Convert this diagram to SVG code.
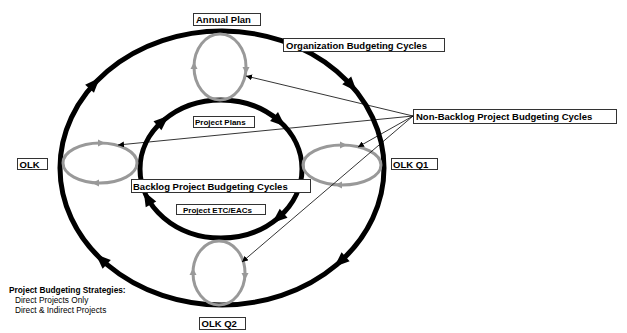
<svg xmlns="http://www.w3.org/2000/svg" width="627" height="333" viewBox="0 0 627 333">
<style>
.big{fill:none;stroke:#000;stroke-width:5}
.cyc{fill:none;stroke:#999;stroke-width:3}
.ah{fill:#000}
.gh{fill:#999}
.box{fill:#fff;stroke:#333;stroke-width:1}
.lbl{font-family:"Liberation Sans",Arial,sans-serif;font-weight:bold;font-size:9.5px;fill:#000}
.sm{font-size:8px}
.note{font-family:"Liberation Sans",Arial,sans-serif;font-size:8.3px;fill:#000}
.con{stroke:#000;stroke-width:0.8;fill:none;marker-end:url(#tip)}
</style>
<defs>
<marker id="tip" viewBox="0 0 10 10" refX="10" refY="5" markerWidth="6" markerHeight="6" markerUnits="userSpaceOnUse" orient="auto">
<path d="M0,0 L10,5 L0,10 z" fill="#000"/>
</marker>
</defs>
<g id="outer-cycle">
<ellipse class="big" cx="222" cy="168" rx="162" ry="137"/>
<polygon class="ah" points="8,0 -7,-6 -7,6" transform="translate(94.3,83.6) rotate(-47.3)"/>
<polygon class="ah" points="8,0 -7,-6 -7,6" transform="translate(351.4,85.6) rotate(48.3)"/>
<polygon class="ah" points="8,0 -7,-6 -7,6" transform="translate(340.4,261.4) rotate(137.8)"/>
<polygon class="ah" points="8,0 -7,-6 -7,6" transform="translate(101.6,259.7) rotate(223.2)"/>
</g>
<g id="inner-cycle">
<ellipse class="big" cx="221" cy="169" rx="81" ry="69"/>
<polygon class="ah" points="8,0 -7,-6 -7,6" transform="translate(162.7,121.1) rotate(-41.4)"/>
<polygon class="ah" points="8,0 -7,-6 -7,6" transform="translate(279.3,121.1) rotate(41.4)"/>
<polygon class="ah" points="8,0 -7,-6 -7,6" transform="translate(278.3,217.8) rotate(139.6)"/>
<polygon class="ah" points="8,0 -7,-6 -7,6" transform="translate(147.6,198.2) rotate(241.2)"/>
</g>
<g id="cycle-annual">
<ellipse class="cyc" cx="220" cy="67" rx="26" ry="33"/>
<polygon class="gh" points="4,0 -3,-3.5 -3,3.5" transform="translate(194,66) rotate(-90)"/>
<polygon class="gh" points="4,0 -3,-3.5 -3,3.5" transform="translate(246,70) rotate(90)"/>
</g>
<g id="cycle-q2">
<ellipse class="cyc" cx="219" cy="273" rx="26" ry="32"/>
<polygon class="gh" points="4,0 -3,-3.5 -3,3.5" transform="translate(193,272) rotate(-90)"/>
<polygon class="gh" points="4,0 -3,-3.5 -3,3.5" transform="translate(245,276) rotate(90)"/>
</g>
<g id="cycle-olk">
<ellipse class="cyc" cx="100" cy="163" rx="37" ry="20"/>
<polygon class="gh" points="4,0 -3,-3.5 -3,3.5" transform="translate(101,143)"/>
<polygon class="gh" points="4,0 -3,-3.5 -3,3.5" transform="translate(96,183) rotate(180)"/>
</g>
<g id="cycle-q1">
<ellipse class="cyc" cx="342" cy="165" rx="39" ry="20"/>
<polygon class="gh" points="4,0 -3,-3.5 -3,3.5" transform="translate(343,145)"/>
<polygon class="gh" points="4,0 -3,-3.5 -3,3.5" transform="translate(339,185) rotate(180)"/>
</g>
<g id="connectors">
<line class="con" x1="413" y1="116" x2="246" y2="76"/>
<line class="con" x1="413" y1="116" x2="118" y2="145"/>
<line class="con" x1="413" y1="116" x2="358" y2="147"/>
<line class="con" x1="413" y1="116" x2="242" y2="262"/>
</g>
<g id="label-annual-plan">
<rect class="box" x="193.5" y="13.5" width="67" height="12"/>
<text class="lbl" x="196" y="23">Annual Plan</text>
</g>
<g id="label-org-cycles">
<rect class="box" x="283.5" y="38.5" width="161" height="13"/>
<text class="lbl" x="286" y="48.5">Organization Budgeting Cycles</text>
</g>
<g id="label-nonbacklog">
<rect class="box" x="413.5" y="109.5" width="203" height="14"/>
<text class="lbl" x="416" y="120">Non-Backlog Project Budgeting Cycles</text>
</g>
<g id="label-olk-q1">
<rect class="box" x="391.5" y="158.5" width="46" height="11"/>
<text class="lbl" x="393" y="167.5">OLK Q1</text>
</g>
<g id="label-olk">
<rect class="box" x="17.5" y="158.5" width="30" height="11"/>
<text class="lbl" x="19.5" y="167.5">OLK</text>
</g>
<g id="label-project-plans">
<rect class="box" x="193.5" y="116.5" width="61" height="11"/>
<text class="lbl sm" x="195" y="125">Project Plans</text>
</g>
<g id="label-backlog">
<rect class="box" x="131.5" y="179.5" width="179" height="13"/>
<text class="lbl" x="133" y="189.5">Backlog Project Budgeting Cycles</text>
</g>
<g id="label-etc">
<rect class="box" x="176.5" y="204.5" width="89" height="10"/>
<text class="lbl sm" x="183" y="212.5">Project ETC/EACs</text>
</g>
<g id="label-olk-q2">
<rect class="box" x="199.5" y="317.5" width="46" height="12"/>
<text class="lbl" x="201.5" y="327">OLK Q2</text>
</g>
<g id="strategies">
<text class="note" x="9" y="293" font-weight="bold">Project Budgeting Strategies:</text>
<text class="note" x="15" y="303">Direct Projects Only</text>
<text class="note" x="15" y="313">Direct &amp; Indirect Projects</text>
</g>
</svg>
